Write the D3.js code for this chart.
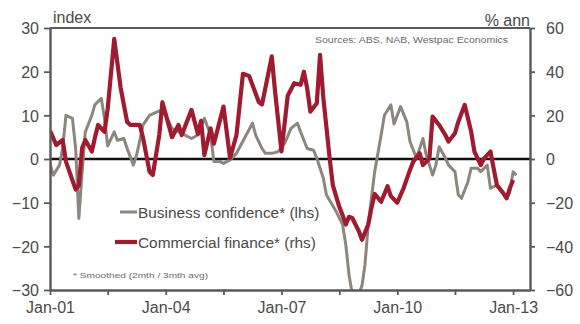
<!DOCTYPE html>
<html>
<head>
<meta charset="utf-8">
<script src="https://cdn.jsdelivr.net/npm/d3@7"></script>
<style>
  html, body { margin: 0; padding: 0; background: #fff; }
  svg { display: block; font-family: "Liberation Sans", Arial, sans-serif; }
</style>
</head>
<body>
<svg id="chart" width="580" height="324"></svg>
<script>
// Business confidence (index, left axis), smoothed
const bizDates = ["2001-01","2001-02","2001-04","2001-05","2001-06","2001-08","2001-09","2001-10","2001-11","2001-12",
  "2002-02","2002-03","2002-05","2002-06","2002-07","2002-09","2002-10","2002-12","2003-01","2003-03","2003-04",
  "2003-06","2003-08","2003-11","2004-01","2004-03","2004-05","2004-07","2004-09","2004-11","2005-01","2005-03",
  "2005-04","2005-06","2005-07","2005-09","2005-11","2006-02","2006-04","2006-05","2006-07","2006-08","2006-10",
  "2006-12","2007-02","2007-04","2007-06","2007-07","2007-09","2007-11","2007-12","2008-02","2008-03","2008-06",
  "2008-08","2008-09","2008-10","2008-11","2009-01","2009-02","2009-03","2009-04","2009-06","2009-08","2009-09",
  "2009-11","2009-12","2010-02","2010-04","2010-05","2010-07","2010-09","2010-10","2010-12","2011-01","2011-02",
  "2011-04","2011-05","2011-07","2011-08","2011-09","2011-11","2011-12","2012-02","2012-03","2012-05","2012-06",
  "2012-08","2012-09","2012-11","2012-12","2013-01","2013-02"];
const bizValues = [-1,-3.7,-1.4,2.5,10,9.3,2.4,-13.6,-2.9,6.2,
  10,12.4,13.9,9.3,3,6.2,4.3,4.7,2.4,-1.4,0.9,
  7.8,10,11,10,7,6.2,5.5,4.7,5.5,9.3,5.5,
  -0.6,-0.6,-1,-0.2,1.3,5.5,8.2,5.5,2.4,1.3,1.3,
  1.7,3.6,7,8.2,6.2,2.4,2,0.2,-4.4,-8.2,-12,
  -15,-19.7,-26.5,-31,-31,-29,-24.2,-15,-2.9,5.5,10,
  12.4,8,12,8.5,4,0.2,4.7,1,-3.7,-1.4,2.8,
  0.2,-1.4,-2.9,-8.2,-9,-5.2,-2.1,-2.1,-2.9,-1.4,-6.7,
  -6,-6.7,-9,-7.5,-2.9,-3.7];

// Commercial finance (% annual, right axis), smoothed
const finDates = ["2001-01","2001-03","2001-05","2001-06","2001-09","2001-10","2001-11","2001-12","2002-02","2002-03",
  "2002-04","2002-06","2002-07","2002-09","2002-11","2003-01","2003-02","2003-05","2003-06","2003-08","2003-09",
  "2003-11","2003-12","2004-03","2004-05","2004-06","2004-09","2004-11","2004-12","2005-01","2005-03","2005-04",
  "2005-07","2005-09","2005-11","2006-01","2006-03","2006-06","2006-07","2006-10","2006-11","2007-01","2007-03",
  "2007-05","2007-07","2007-08","2007-09","2007-10","2007-12","2008-01","2008-02","2008-04","2008-05","2008-07",
  "2008-08","2008-09","2008-10","2008-11","2009-01","2009-02","2009-04","2009-05","2009-06","2009-08","2009-10",
  "2009-11","2010-01","2010-03","2010-05","2010-06","2010-08","2010-09","2010-11","2010-12","2011-02","2011-04",
  "2011-05","2011-07","2011-08","2011-10","2011-12","2012-01","2012-03","2012-04","2012-06","2012-07","2012-08",
  "2012-10","2012-11","2012-12","2013-01"];
const finValues = [13,6.4,8.7,-1.2,-14,-12,5,8.7,3.4,9.6,
  15.6,12.5,23,55,32.5,17,15.6,15.6,9.6,-5.8,-7.3,
  11,26,10,15.6,11,22.5,11.5,17.5,1.8,14,7,
  24,0.5,11,39,38,26,25,47,31,3.5,29,
  34.7,34,40,32.4,21.7,25.5,47.7,28,0.3,-12,-21.9,
  -25.7,-30,-26.5,-27,-33,-37,-30,-22.5,-16,-19.6,-12.5,
  -17,-20,-13.4,-5,-1.2,2.6,-2.8,0.3,19.4,15.6,11,
  8,11.8,17,24.8,12.5,3.4,-2.8,0.3,3.4,-4.3,-12,
  -15.7,-18,-13.4,-9.6];

const leftTicks = [-30, -20, -10, 0, 10, 20, 30];
const rightTicks = [-60, -40, -20, 0, 20, 40, 60];
const xTickDates = ["2001-01","2002-07","2004-01","2005-07","2007-01","2008-07","2010-01","2011-07","2013-01"];
const xLabelYears = [2001, 2004, 2007, 2010, 2013];

const seriesNames = ["Business confidence* (lhs)", "Commercial finance* (rhs)"];
const seriesColors = ["#8c877e", "#a01b30"];

const parse = d3.timeParse("%Y-%m");
const fmt = d3.timeFormat("%b-%y");

const M = { left: 50, right: 530, top: 28, bottom: 290 };
const svg = d3.select("#chart");

const x = d3.scaleTime()
  .domain([new Date(2001, 0, 1), new Date(2013, 5, 10)])
  .range([M.left, M.right]);
const yL = d3.scaleLinear().domain([-30, 30]).range([M.bottom, M.top]);
const yR = d3.scaleLinear().domain([-60, 60]).range([M.bottom, M.top]);

const axisColor = "#595959";
const textColor = "#4a4a4a";

svg.append("defs").append("clipPath").attr("id", "plot-clip")
  .append("rect")
  .attr("x", M.left).attr("y", M.top)
  .attr("width", M.right - M.left).attr("height", M.bottom - M.top);

// frame top edge
svg.append("line")
  .attr("x1", M.left).attr("x2", M.right)
  .attr("y1", M.top).attr("y2", M.top)
  .attr("stroke", axisColor).attr("stroke-width", 1.8);

// zero line
svg.append("line")
  .attr("x1", M.left).attr("x2", M.right)
  .attr("y1", yL(0)).attr("y2", yL(0))
  .attr("stroke", "#111").attr("stroke-width", 2.6);

const biz = bizDates.map((d, i) => ({ date: parse(d), value: bizValues[i] }));
const fin = finDates.map((d, i) => ({ date: parse(d), value: finValues[i] }));

const lines = svg.append("g").attr("clip-path", "url(#plot-clip)");
lines.append("path")
  .datum(biz)
  .attr("fill", "none")
  .attr("stroke", seriesColors[0])
  .attr("stroke-width", 3)
  .attr("stroke-linejoin", "round")
  .attr("d", d3.line().x(d => x(d.date)).y(d => yL(d.value)));
lines.append("path")
  .datum(fin)
  .attr("fill", "none")
  .attr("stroke", seriesColors[1])
  .attr("stroke-width", 4.2)
  .attr("stroke-linejoin", "round")
  .attr("d", d3.line().x(d => x(d.date)).y(d => yR(d.value)));

function styleAxis(g) {
  g.select(".domain").attr("stroke", axisColor).attr("stroke-width", 2.4);
  g.selectAll(".tick line").attr("stroke", axisColor).attr("stroke-width", 1.8);
  g.selectAll(".tick text").attr("fill", textColor)
    .style("font-size", "16px")
    .style("font-family", "'Liberation Sans', Arial, sans-serif");
}

// left axis
svg.append("g")
  .attr("transform", `translate(${M.left},0)`)
  .call(d3.axisLeft(yL).tickValues(leftTicks).tickSize(6).tickPadding(5).tickSizeOuter(0))
  .call(styleAxis)
  .call(g => g.selectAll(".tick text").attr("dy", "0.36em"));

// right axis
svg.append("g")
  .attr("transform", `translate(${M.right},0)`)
  .call(d3.axisRight(yR).tickValues(rightTicks).tickSize(5).tickPadding(11).tickSizeOuter(0))
  .call(styleAxis)
  .call(g => g.selectAll(".tick text").attr("dy", "0.36em"));

// bottom axis
svg.append("g")
  .attr("transform", `translate(0,${M.bottom})`)
  .call(d3.axisBottom(x)
    .tickValues(xTickDates.map(parse))
    .tickFormat(d => (d.getMonth() === 0 && xLabelYears.includes(d.getFullYear())) ? fmt(d) : "")
    .tickSize(5).tickPadding(7).tickSizeOuter(0))
  .call(styleAxis);

// axis unit labels
svg.append("text")
  .attr("x", 53).attr("y", 23)
  .attr("fill", textColor).style("font-size", "16px")
  .text("index");
svg.append("text")
  .attr("x", 530).attr("y", 26)
  .attr("text-anchor", "end")
  .attr("fill", textColor).style("font-size", "16px")
  .text("% ann");

// source note
svg.append("text")
  .attr("x", 315).attr("y", 43)
  .attr("fill", "#6a6a6a").style("font-size", "8.5px")
  .attr("textLength", 193).attr("lengthAdjust", "spacingAndGlyphs")
  .text("Sources: ABS, NAB, Westpac Economics");

// legend
const legend = svg.append("g");
const legendRows = [
  { y: 212, x1: 120, w: 3 },
  { y: 242, x1: 115, w: 4.2 }
];
legendRows.forEach((r, i) => {
  legend.append("line")
    .attr("x1", r.x1).attr("x2", 137)
    .attr("y1", r.y).attr("y2", r.y)
    .attr("stroke", seriesColors[i]).attr("stroke-width", r.w);
  legend.append("text")
    .attr("x", 138).attr("y", r.y + 5.5)
    .attr("fill", textColor).style("font-size", "15.4px")
    .text(seriesNames[i]);
});

svg.append("text")
  .attr("x", 73).attr("y", 278)
  .attr("fill", "#6a6a6a").style("font-size", "8px")
  .attr("textLength", 135).attr("lengthAdjust", "spacingAndGlyphs")
  .text("* Smoothed (2mth / 3mth avg)");
</script>
</body>
</html>
